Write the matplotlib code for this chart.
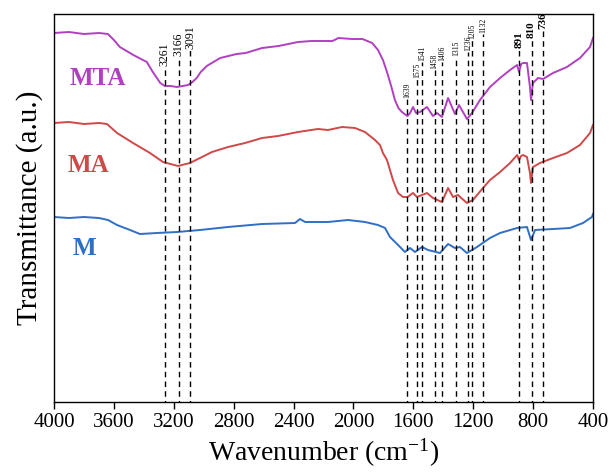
import matplotlib
matplotlib.use("Agg")
import matplotlib.pyplot as plt

# FTIR spectra (transmittance, arbitrary units, curves offset vertically)
wn_mta = [4000, 3900, 3800, 3700, 3640, 3600, 3560, 3470, 3380, 3340, 3290, 3260, 3220,
          3180, 3140, 3105, 3075, 3047, 3020, 2980, 2890, 2780, 2720, 2610, 2500, 2370,
          2280, 2140, 2100, 2010, 1940, 1875, 1836, 1803, 1776, 1750, 1723, 1700, 1676,
          1650, 1639, 1622, 1602, 1582, 1556, 1509, 1469, 1442, 1409, 1368, 1342, 1322,
          1295, 1242, 1208, 1155, 1088, 1021, 954, 907, 894, 880, 867, 841, 821, 814,
          801, 767, 734, 667, 574, 487, 420, 400]
t_mta = [373, 374, 372, 373, 372, 366, 359, 351, 344, 334, 323, 320, 320,
         319, 320, 321, 324, 328, 334, 340, 348, 352, 353, 358, 360, 364,
         365, 365, 368, 367, 367, 363, 356, 346, 334, 321, 306, 298, 294,
         291, 290, 293, 299, 293, 294, 299, 290, 293, 289, 308, 299, 292,
         301, 287, 293, 306, 319, 328, 336, 341, 334, 342, 343, 343, 319, 306,
         323, 328, 327, 333, 339, 348, 359, 368]

wn_ma = [4000, 3900, 3800, 3700, 3646, 3579, 3472, 3359, 3272, 3172, 3092, 3025, 2945,
         2838, 2724, 2610, 2504, 2370, 2237, 2170, 2076, 1990, 1923, 1856, 1823, 1803,
         1776, 1736, 1702, 1669, 1639, 1602, 1576, 1542, 1509, 1469, 1409, 1368, 1335,
         1302, 1242, 1202, 1135, 1088, 1021, 954, 907, 894, 880, 867, 841, 821, 814,
         801, 754, 667, 574, 487, 420, 400]
t_ma = [283, 284, 282, 283, 282, 273, 263, 253, 244, 240, 243, 248, 254,
        259, 263, 268, 270, 274, 277, 276, 279, 278, 274, 266, 261, 253,
        246, 226, 213, 209, 209, 213, 209, 211, 213, 208, 204, 218, 209,
        211, 203, 206, 218, 226, 234, 243, 251, 246, 250, 251, 249, 233, 223,
        239, 243, 248, 253, 261, 273, 281]

wn_m = [4000, 3900, 3800, 3700, 3639, 3579, 3492, 3426, 3312, 3178, 3025, 2838, 2610,
        2390, 2357, 2323, 2170, 2036, 1923, 1836, 1789, 1756, 1702, 1656, 1622, 1589,
        1542, 1502, 1422, 1368, 1322, 1289, 1242, 1175, 1088, 1021, 907, 841, 814,
        787, 667, 554, 467, 407, 400]
t_m = [189, 188, 189, 188, 186, 181, 176, 172, 173, 174, 176, 179, 182,
       183, 187, 184, 184, 186, 184, 181, 178, 169, 161, 154, 158, 154,
       159, 156, 153, 162, 158, 159, 153, 159, 168, 173, 178, 179, 166,
       176, 177, 178, 183, 189, 192]

# Assigned band positions (cm-1)
bands_main = [3261, 3166, 3091]
bands_mid = [1639, 1575, 1541, 1458, 1406, 1315, 1236, 1205, 1132]
bands_low = [891, 810, 736]

# Height at which each band marker ends and its label starts
top_main = [339, 349, 356]
top_mid = [307, 327, 344, 336, 344, 349, 354, 366, 372]
top_low = [357, 367, 376]

sample_names = ["MTA", "MA", "M"]
sample_colors = ["#B040C0", "#D04848", "#2F6FC4"]

plt.rcParams["font.family"] = ["Liberation Serif", "DejaVu Serif"]
plt.rcParams["mathtext.fontset"] = "stix"

fig = plt.figure(figsize=(6.09, 4.72), dpi=100)
ax = fig.add_axes([54 / 609, 1 - 402 / 472, 539 / 609, 388 / 472])

for wn, t, c in zip([wn_mta, wn_ma, wn_m], [t_mta, t_ma, t_m], sample_colors):
    ax.plot(wn, t, color=c, lw=1.4)

def mark(bands, tops, size, weight):
    for b, tp in zip(bands, tops):
        ax.plot([b, b], [0, tp], color="black", lw=1.0, ls=(0, (4, 3)))
        ax.text(b, tp + 1, str(b), rotation=90, ha="center", va="bottom",
                fontsize=size, fontweight=weight)

mark(bands_main, top_main, 8.5, "normal")
mark(bands_mid, top_mid, 5.5, "normal")
mark(bands_low, top_low, 8, "bold")

label_pos = [(3893, 321), (3906, 234), (3873, 151)]
for name, c, (x, y) in zip(sample_names, sample_colors, label_pos):
    ax.text(x, y, name, color=c, fontsize=18, fontweight="bold",
            ha="left", va="baseline")

ax.set_xlim(4000, 400)
ax.set_ylim(4, 392)
ax.set_xticks([4000, 3600, 3200, 2800, 2400, 2000, 1600, 1200, 800, 400])
ax.set_yticks([])
ax.tick_params(axis="x", direction="out", length=4.7, width=1, labelsize=15, pad=3)
for s in ax.spines.values():
    s.set_linewidth(1.0)

ax.set_xlabel(r"Wavenumber (cm$^{\mathregular{-1}}$)", fontsize=20, labelpad=3)
ax.set_ylabel("Transmittance (a.u.)", fontsize=21, labelpad=8)

fig.savefig("out.png", dpi=100)
